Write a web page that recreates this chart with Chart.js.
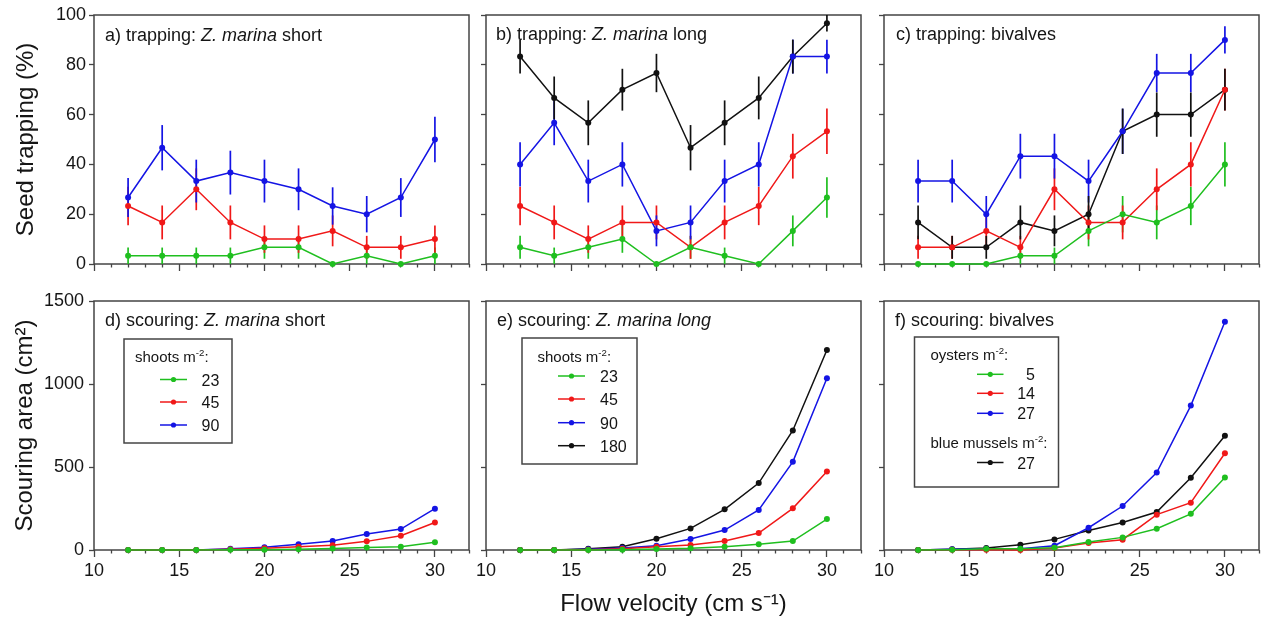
<!DOCTYPE html>
<html>
<head>
<meta charset="utf-8">
<script src="https://cdn.jsdelivr.net/npm/chart.js@4.4.1/dist/chart.umd.min.js"></script>
<style>
html,body{margin:0;padding:0;background:#fff;width:1264px;height:619px;overflow:hidden}
canvas{position:absolute;left:0;top:0}
</style>
</head>
<body>
<canvas id="pa" width="1264" height="619"></canvas>
<canvas id="pb" width="1264" height="619"></canvas>
<canvas id="pc" width="1264" height="619"></canvas>
<canvas id="pd" width="1264" height="619"></canvas>
<canvas id="pe" width="1264" height="619"></canvas>
<canvas id="pf" width="1264" height="619"></canvas>
<script>
// ---------------- DATA ----------------
const velocity = [12, 14, 16, 18, 20, 22, 24, 26, 28, 30];
const xTickLabels = [10, 15, 20, 25, 30];
const trapTicks = [0, 20, 40, 60, 80, 100];
const scourTicks = [0, 500, 1000, 1500];

const shortDensities = ['23', '45', '90'];
const longDensities = ['23', '45', '90', '180'];
const oysterDensities = ['5', '14', '27'];
const musselDensities = ['27'];

// a) trapping: Z. marina short
const trapShort23 = [3.3, 3.3, 3.3, 3.3, 6.7, 6.7, 0, 3.3, 0, 3.3];
const trapShort23Err = [3.3, 3.3, 3.3, 3.3, 4.6, 4.6, 0, 3.3, 0, 3.3];
const trapShort45 = [23.3, 16.7, 30, 16.7, 10, 10, 13.3, 6.7, 6.7, 10];
const trapShort45Err = [7.7, 6.8, 8.4, 6.8, 5.5, 5.5, 6.2, 4.6, 4.6, 5.5];
const trapShort90 = [26.7, 46.7, 33.3, 36.7, 33.3, 30, 23.3, 20, 26.7, 50];
const trapShort90Err = [7.8, 9.1, 8.6, 8.8, 8.6, 8.4, 7.5, 7.3, 7.8, 9.1];

// b) trapping: Z. marina long
const trapLong23 = [6.7, 3.3, 6.7, 10, 0, 6.7, 3.3, 0, 13.3, 26.7];
const trapLong23Err = [4.6, 3.3, 4.6, 5.5, 0, 4.6, 3.3, 0, 6.2, 8.1];
const trapLong45 = [23.3, 16.7, 10, 16.7, 16.7, 6.7, 16.7, 23.3, 43.3, 53.3];
const trapLong45Err = [7.7, 6.8, 5.5, 6.8, 6.8, 4.6, 6.8, 7.7, 9.0, 9.1];
const trapLong90 = [40, 56.7, 33.3, 40, 13.3, 16.7, 33.3, 40, 83.3, 83.3];
const trapLong90Err = [8.9, 9.0, 8.6, 8.9, 6.2, 6.8, 8.6, 8.9, 6.8, 6.8];
const trapLong180 = [83.3, 66.7, 56.7, 70, 76.7, 46.7, 56.7, 66.7, 83.3, 96.7];
const trapLong180Err = [6.8, 8.6, 9.0, 8.4, 7.7, 9.1, 9.0, 8.6, 6.8, 3.3];

// c) trapping: bivalves
const trapOyster5 = [0, 0, 0, 3.3, 3.3, 13.3, 20, 16.7, 23.3, 40];
const trapOyster5Err = [0, 0, 0, 3.3, 3.3, 6.2, 7.3, 6.8, 7.7, 8.9];
const trapOyster14 = [6.7, 6.7, 13.3, 6.7, 30, 16.7, 16.7, 30, 40, 70];
const trapOyster14Err = [4.6, 4.6, 6.2, 4.6, 8.4, 6.8, 6.8, 8.4, 8.9, 8.4];
const trapOyster27 = [33.3, 33.3, 20, 43.3, 43.3, 33.3, 53.3, 76.7, 76.7, 90];
const trapOyster27Err = [8.6, 8.6, 7.3, 9.0, 9.0, 8.6, 9.1, 7.7, 7.7, 5.5];
const trapMussel27 = [16.7, 6.7, 6.7, 16.7, 13.3, 20, 53.3, 60, 60, 70];
const trapMussel27Err = [6.8, 4.6, 4.6, 6.8, 6.2, 7.3, 9.1, 8.9, 8.9, 8.4];

// d) scouring: Z. marina short
const scourShort23 = [0, 0, 0, 1, 2, 5, 9, 15, 20, 46];
const scourShort45 = [0, 0, 0, 4, 10, 20, 28, 52, 86, 166];
const scourShort90 = [0, 0, 0, 8, 16, 34, 54, 96, 126, 249];

// e) scouring: Z. marina long
const scourLong23 = [0, 0, 0, 2, 6, 10, 20, 34, 54, 186];
const scourLong45 = [0, 0, 2, 8, 20, 30, 54, 102, 251, 473];
const scourLong90 = [0, 0, 4, 12, 26, 66, 120, 241, 531, 1035];
const scourLong180 = [0, 0, 8, 20, 68, 130, 245, 403, 720, 1205];

// f) scouring: bivalves
const scourOyster5 = [0, 2, 8, 8, 14, 48, 76, 128, 218, 437];
const scourOyster14 = [0, 2, 2, 0, 12, 42, 62, 213, 285, 583];
const scourOyster27 = [0, 4, 8, 8, 26, 134, 265, 467, 870, 1375];
const scourMussel27 = [0, 4, 12, 32, 64, 118, 166, 229, 435, 688];

// ---------------- STYLE ----------------
const W = 1264, H = 619;
const FONT = '"Liberation Sans", Arial, Helvetica, sans-serif';
const GREEN = '#1fbf1f', RED = '#f01818', BLUE = '#1414e4', BLACK = '#111111';
const AXIS = '#444444', TEXT = '#151515';
Chart.defaults.font.family = FONT;

function drawRich(ctx, x, y, parts, size, align) {
  const seg = parts.map(pt => {
    const sz = pt.sup ? size * 0.64 : size;
    const f = (pt.italic ? 'italic ' : '') + sz + 'px ' + FONT;
    ctx.font = f;
    return {t: pt.t, f: f, w: ctx.measureText(pt.t).width, dy: pt.sup ? -size * 0.40 : 0};
  });
  const total = seg.reduce((a, s) => a + s.w, 0);
  let cx = align === 'right' ? x - total : x;
  ctx.textAlign = 'left';
  ctx.textBaseline = 'alphabetic';
  seg.forEach(s => { ctx.font = s.f; ctx.fillText(s.t, cx, y + s.dy); cx += s.w; });
}

function makePanel(id, p) {
  const datasets = p.series.map(s => ({
    label: s.label,
    data: velocity.map((v, i) => ({x: v, y: s.values[i]})),
    err: s.err || null,
    borderColor: s.color,
    backgroundColor: s.color,
    pointBackgroundColor: s.color,
    pointBorderColor: s.color,
    borderWidth: 1.5,
    pointRadius: 3,
    pointHoverRadius: 3,
    pointBorderWidth: 0,
    tension: 0,
    fill: false,
    clip: false
  }));

  const framePlugin = {
    id: 'frame' + id,
    beforeDatasetsDraw(chart) {
      const a = chart.chartArea, ctx = chart.ctx;
      ctx.save();
      ctx.strokeStyle = AXIS;
      ctx.lineWidth = 1.5;
      ctx.strokeRect(a.left, a.top, a.right - a.left, a.bottom - a.top);
      // error bars
      const xs = chart.scales.x, ys = chart.scales.y;
      chart.data.datasets.forEach(ds => {
        if (!ds.err) return;
        ctx.strokeStyle = ds.borderColor;
        ctx.lineWidth = 1.7;
        ds.data.forEach((pt, i) => {
          const e = ds.err[i];
          if (!e) return;
          const px = xs.getPixelForValue(pt.x);
          ctx.beginPath();
          ctx.moveTo(px, ys.getPixelForValue(pt.y - e));
          ctx.lineTo(px, ys.getPixelForValue(pt.y + e));
          ctx.stroke();
        });
      });
      ctx.restore();
    },
    afterDatasetsDraw(chart) {
      const ctx = chart.ctx;
      ctx.save();
      ctx.fillStyle = TEXT;
      drawRich(ctx, p.label.x, p.label.y, p.label.parts, 18, 'left');
      if (p.legend) {
        const lg = p.legend;
        ctx.strokeStyle = AXIS;
        ctx.lineWidth = 1.5;
        ctx.strokeRect(lg.box[0], lg.box[1], lg.box[2] - lg.box[0], lg.box[3] - lg.box[1]);
        lg.items.forEach(it => {
          ctx.fillStyle = TEXT;
          if (it.type === 'title') {
            drawRich(ctx, it.x, it.y, it.parts, 15, 'left');
          } else {
            ctx.strokeStyle = it.color;
            ctx.lineWidth = 1.5;
            ctx.beginPath();
            ctx.moveTo(lg.lx1, it.y);
            ctx.lineTo(lg.lx2, it.y);
            ctx.stroke();
            ctx.fillStyle = it.color;
            ctx.beginPath();
            ctx.arc((lg.lx1 + lg.lx2) / 2, it.y, 2.6, 0, Math.PI * 2);
            ctx.fill();
            ctx.fillStyle = TEXT;
            drawRich(ctx, lg.tx, it.y + 6, [{t: it.text}], 16, lg.align);
          }
        });
      }
      ctx.restore();
    }
  };

  return new Chart(document.getElementById(id), {
    type: 'line',
    data: {datasets: datasets},
    plugins: [framePlugin],
    options: {
      responsive: false,
      animation: false,
      events: [],
      layout: {padding: {left: 0, top: p.T, right: W - p.R, bottom: 0}},
      plugins: {legend: {display: false}, tooltip: {enabled: false}},
      scales: {
        x: {
          type: 'linear', min: 10, max: 32, position: 'bottom',
          afterFit: s => { s.height = H - p.B; },
          border: {display: false},
          grid: {
            drawOnChartArea: false, drawTicks: true, tickLength: 7, tickWidth: 1.3, tickColor: AXIS,
            tickBorderDash: c => (c.tick && xTickLabels.includes(c.tick.value)) ? [] : [3.5, 30]
          },
          ticks: {
            display: p.showX, stepSize: 1, autoSkip: false, maxRotation: 0, minRotation: 0,
            padding: 3, color: TEXT, font: {size: 18},
            callback: v => xTickLabels.includes(v) ? String(v) : ''
          },
          title: p.xTitle ? {display: true, text: p.xTitle, color: TEXT, font: {size: 24}, padding: {top: 0, bottom: 0.5}} : {display: false}
        },
        y: {
          type: 'linear', min: 0, max: p.yTicks[p.yTicks.length - 1],
          afterBuildTicks: s => { s.ticks = p.yTicks.map(v => ({value: v})); },
          afterFit: s => { s.width = p.L; },
          border: {display: false},
          grid: {drawOnChartArea: false, drawTicks: true, tickLength: 5, tickWidth: 1.3, tickColor: AXIS},
          ticks: {display: p.showY, padding: p.yPad || 3, color: TEXT, font: {size: 18}, callback: v => String(v)},
          title: p.yTitle ? {display: true, text: p.yTitle, color: TEXT, font: {size: 24}, padding: {top: p.yTitlePad, bottom: 0}} : {display: false}
        }
      }
    }
  });
}

// ---------------- PANELS ----------------
const TOP = {T: 15, B: 264}, BOT = {T: 301, B: 550};
const COLA = {L: 94, R: 469}, COLB = {L: 486, R: 861}, COLC = {L: 884, R: 1259};

makePanel('pa', Object.assign({}, TOP, COLA, {
  yTicks: trapTicks, showY: true, showX: false, yTitle: 'Seed trapping (%)', yTitlePad: 12, yPad: 3,
  label: {x: 105, y: 40.5, parts: [{t: 'a) trapping: '}, {t: 'Z. marina', italic: true}, {t: ' short'}]},
  series: [
    {label: shortDensities[0], values: trapShort23, err: trapShort23Err, color: GREEN},
    {label: shortDensities[1], values: trapShort45, err: trapShort45Err, color: RED},
    {label: shortDensities[2], values: trapShort90, err: trapShort90Err, color: BLUE}
  ]
}));

makePanel('pb', Object.assign({}, TOP, COLB, {
  yTicks: trapTicks, showY: false, showX: false,
  label: {x: 496, y: 40, parts: [{t: 'b) trapping: '}, {t: 'Z. marina', italic: true}, {t: ' long'}]},
  series: [
    {label: longDensities[0], values: trapLong23, err: trapLong23Err, color: GREEN},
    {label: longDensities[1], values: trapLong45, err: trapLong45Err, color: RED},
    {label: longDensities[2], values: trapLong90, err: trapLong90Err, color: BLUE},
    {label: longDensities[3], values: trapLong180, err: trapLong180Err, color: BLACK}
  ]
}));

makePanel('pc', Object.assign({}, TOP, COLC, {
  yTicks: trapTicks, showY: false, showX: false,
  label: {x: 896, y: 39.5, parts: [{t: 'c) trapping: bivalves'}]},
  series: [
    {label: oysterDensities[0], values: trapOyster5, err: trapOyster5Err, color: GREEN},
    {label: oysterDensities[1], values: trapOyster14, err: trapOyster14Err, color: RED},
    {label: oysterDensities[2], values: trapOyster27, err: trapOyster27Err, color: BLUE},
    {label: musselDensities[0], values: trapMussel27, err: trapMussel27Err, color: BLACK}
  ]
}));

makePanel('pd', Object.assign({}, BOT, COLA, {
  yTicks: scourTicks, showY: true, showX: true, yTitle: 'Scouring area (cm²)', yTitlePad: 10.5, yPad: 5,
  label: {x: 105, y: 325.5, parts: [{t: 'd) scouring: '}, {t: 'Z. marina', italic: true}, {t: ' short'}]},
  legend: {
    box: [124, 339, 232, 443], lx1: 160, lx2: 187, tx: 201.5, align: 'left',
    items: [
      {type: 'title', x: 135, y: 361.5, parts: [{t: 'shoots m'}, {t: '-2', sup: true}, {t: ':'}]},
      {type: 'item', y: 379.5, color: GREEN, text: shortDensities[0]},
      {type: 'item', y: 402, color: RED, text: shortDensities[1]},
      {type: 'item', y: 425, color: BLUE, text: shortDensities[2]}
    ]
  },
  series: [
    {label: shortDensities[0], values: scourShort23, color: GREEN},
    {label: shortDensities[1], values: scourShort45, color: RED},
    {label: shortDensities[2], values: scourShort90, color: BLUE}
  ]
}));

makePanel('pe', Object.assign({}, BOT, COLB, {
  yTicks: scourTicks, showY: false, showX: true, xTitle: 'Flow velocity (cm s⁻¹)',
  label: {x: 497, y: 325.5, parts: [{t: 'e) scouring: '}, {t: 'Z. marina long', italic: true}]},
  legend: {
    box: [522, 338, 637, 464], lx1: 558, lx2: 585, tx: 600, align: 'left',
    items: [
      {type: 'title', x: 537.5, y: 361.5, parts: [{t: 'shoots m'}, {t: '-2', sup: true}, {t: ':'}]},
      {type: 'item', y: 376, color: GREEN, text: longDensities[0]},
      {type: 'item', y: 399, color: RED, text: longDensities[1]},
      {type: 'item', y: 422.7, color: BLUE, text: longDensities[2]},
      {type: 'item', y: 445.7, color: BLACK, text: longDensities[3]}
    ]
  },
  series: [
    {label: longDensities[0], values: scourLong23, color: GREEN},
    {label: longDensities[1], values: scourLong45, color: RED},
    {label: longDensities[2], values: scourLong90, color: BLUE},
    {label: longDensities[3], values: scourLong180, color: BLACK}
  ]
}));

makePanel('pf', Object.assign({}, BOT, COLC, {
  yTicks: scourTicks, showY: false, showX: true,
  label: {x: 895, y: 325.5, parts: [{t: 'f) scouring: bivalves'}]},
  legend: {
    box: [914.5, 337, 1058.5, 487], lx1: 977, lx2: 1003.5, tx: 1035, align: 'right',
    items: [
      {type: 'title', x: 930.5, y: 360, parts: [{t: 'oysters m'}, {t: '-2', sup: true}, {t: ':'}]},
      {type: 'item', y: 374.3, color: GREEN, text: oysterDensities[0]},
      {type: 'item', y: 393.3, color: RED, text: oysterDensities[1]},
      {type: 'item', y: 413.3, color: BLUE, text: oysterDensities[2]},
      {type: 'title', x: 930.5, y: 448.3, parts: [{t: 'blue mussels m'}, {t: '-2', sup: true}, {t: ':'}]},
      {type: 'item', y: 462.5, color: BLACK, text: musselDensities[0]}
    ]
  },
  series: [
    {label: oysterDensities[0], values: scourOyster5, color: GREEN},
    {label: oysterDensities[1], values: scourOyster14, color: RED},
    {label: oysterDensities[2], values: scourOyster27, color: BLUE},
    {label: musselDensities[0], values: scourMussel27, color: BLACK}
  ]
}));
</script>
</body>
</html>
